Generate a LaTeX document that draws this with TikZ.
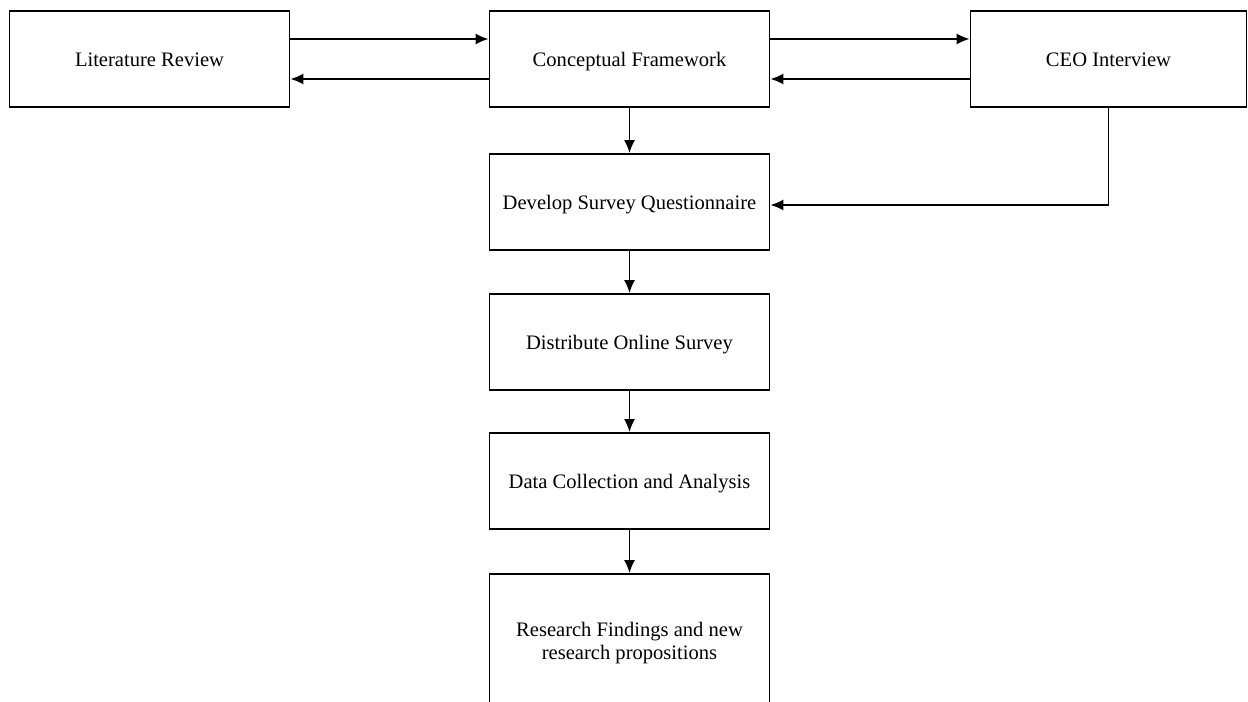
\documentclass[tikz,border=0pt]{standalone}
\usepackage{fontspec}
\setmainfont{Liberation Serif}
\usetikzlibrary{positioning, arrows.meta}

\tikzset{
	stage/.style = {rectangle, draw, line width = 1pt, align = center,
		minimum width = 5.6cm, minimum height = 1.92cm,
		text height = 2ex, text depth = .2ex,
		font = \fontsize{11.7}{13.5}\selectfont}
}

\begin{document}
\begin{tikzpicture}[node distance = 2.8 and 9.6, on grid]
	\useasboundingbox (0,0) rectangle (24.96,-14.04);
	%\draw[help lines] (0,0) grid (25, -14);
	\node (litreview) [stage] at (2.99,-1.18) {Literature Review};
	\node (framework) [stage, right = of litreview] {Conceptual Framework};
	\node (ceo) [stage, right = 9.58 of framework, minimum width = 5.52cm] {CEO Interview};
	
	\node (survey) [stage, below = 2.86 of framework] {Develop Survey Questionnaire};
	\node (distribute) [stage, below = of survey] {Distribute Online Survey};
	\node (analysis) [stage, below = 2.78 of distribute] {Data Collection and Analysis};
	\node (findings) [stage, below = 3.24 of analysis, minimum height = 2.76cm,
		text height = {}, text depth = {}]
		{Research Findings and new\\
		 research propositions};
	
	\begin{scope}[-{Latex[length = 2.6mm, width = 2.2mm]}, line width = 1pt]
		\draw ([yshift = .4cm] litreview.east) -- ([yshift = .4cm] framework.west);
		\draw ([yshift = -.4cm] framework.west) -- ([yshift = -.4cm] litreview.east);
		\draw ([yshift = .4cm] framework.east) -- ([yshift = .4cm] ceo.west);
		\draw ([yshift = -.4cm] ceo.west) -- ([yshift = -.4cm] framework.east);
		\draw (framework) -- (survey);
		\draw (ceo.south) |- ([yshift = -.06cm] survey.east);
		\draw (survey) -- (distribute);
		\draw (distribute) -- (analysis);
		\draw (analysis) -- (findings);
	\end{scope}
\end{tikzpicture}
\end{document}
